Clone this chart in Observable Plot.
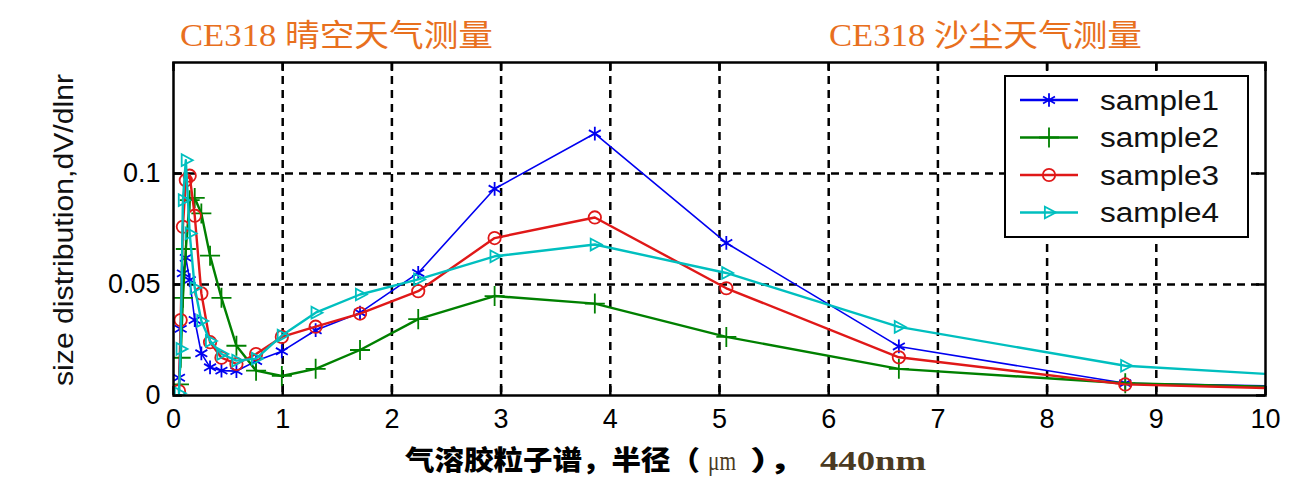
<!DOCTYPE html>
<html>
<head>
<meta charset="utf-8">
<script src="https://cdn.jsdelivr.net/npm/d3@7"></script>
<script src="https://cdn.jsdelivr.net/npm/@observablehq/plot@0.6"></script>
<style>
  html, body { margin: 0; padding: 0; background: #fff; overflow: hidden; }
  #wrap { position: relative; width: 1314px; height: 493px; }
  #wrap > svg { position: absolute; left: 0; top: 0; }
</style>
</head>
<body>
<div id="wrap"></div>
<script>
// ---- data ----
const radius  = [0.05, 0.0656, 0.0861, 0.1129, 0.1482, 0.1944, 0.2551, 0.3347, 0.4392, 0.5763, 0.7561, 0.9921, 1.3017, 1.708, 2.2411, 2.9405, 3.8583, 5.0625, 6.6425, 8.7157, 11.436, 15.0];
const sample1 = [0.008, 0.030, 0.055, 0.062, 0.052, 0.034, 0.019, 0.0127, 0.0112, 0.0110, 0.0155, 0.0199, 0.0294, 0.0373, 0.0552, 0.0931, 0.1180, 0.0687, 0.0221, 0.0055, 0.0030, 0.0010];
const sample2 = [0.005, 0.017, 0.044, 0.066, 0.088, 0.089, 0.082, 0.063, 0.044, 0.0224, 0.0112, 0.0088, 0.0120, 0.0205, 0.0344, 0.0448, 0.0414, 0.0264, 0.0120, 0.0055, 0.0022, 0.0008];
const sample3 = [0.002, 0.034, 0.076, 0.097, 0.099, 0.081, 0.046, 0.024, 0.017, 0.0142, 0.0187, 0.0264, 0.0310, 0.0369, 0.0470, 0.0709, 0.0802, 0.0483, 0.0172, 0.0050, 0.0015, 0.0005];
const sample4 = [0.001, 0.021, 0.088, 0.106, 0.073, 0.0485, 0.0336, 0.0246, 0.0187, 0.0157, 0.0166, 0.0270, 0.0373, 0.0455, 0.0523, 0.0627, 0.0680, 0.0552, 0.0309, 0.0134, 0.0056, 0.0020];
const seriesNames = ["sample1", "sample2", "sample3", "sample4"];
const xTicks = [0, 1, 2, 3, 4, 5, 6, 7, 8, 9, 10];
const yTicks = [0, 0.05, 0.1];
const titleLeft = "CE318 晴空天气测量";
const titleRight = "CE318 沙尘天气测量";
const yLabel = "size distribution,dV/dlnr";

// ---- styles ----
const triangleRight = {
  draw(context, size) {
    const r = Math.sqrt(size / Math.PI) * 1.15;
    context.moveTo(r, 0);
    context.lineTo(-r * 0.6, r * 0.85);
    context.lineTo(-r * 0.6, -r * 0.85);
    context.closePath();
  }
};
const styles = [
  {color: "#0000f0", width: 1.6, symbol: d3.symbolAsterisk, r: 6.5},
  {color: "#008000", width: 2.4, symbol: d3.symbolPlus, r: 6.5},
  {color: "#e01818", width: 2.4, symbol: d3.symbolCircle, r: 6.2},
  {color: "#00bfbf", width: 2.4, symbol: triangleRight, r: 6.0}
];

const values = [sample1, sample2, sample3, sample4];
const tables = values.map((vals, i) => radius.map((r, j) => ({r, v: vals[j], series: seriesNames[i]})));

const W = 1314, H = 493;
const mT = 62, mB = 98, mL = 173, mR = 49;
const frameH = H - mT - mB, frameW = W - mL - mR;
const tickLen = 9;

const marks = [
  Plot.gridX(xTicks.filter(d => d > 0 && d < 10), {stroke: "black", strokeOpacity: 1, strokeWidth: 2.5, strokeDasharray: "8,6"}),
  Plot.gridY(yTicks.filter(d => d > 0), {stroke: "black", strokeOpacity: 1, strokeWidth: 2.5, strokeDasharray: "8,6"}),
  Plot.tickX(xTicks, {x: d => d, insetTop: frameH - tickLen, stroke: "black", strokeWidth: 2.5}),
  Plot.tickX(xTicks, {x: d => d, insetBottom: frameH - tickLen, stroke: "black", strokeWidth: 2.5}),
  Plot.tickY(yTicks, {y: d => d, insetRight: frameW - tickLen, stroke: "black", strokeWidth: 2.5}),
  Plot.tickY(yTicks, {y: d => d, insetLeft: frameW - tickLen, stroke: "black", strokeWidth: 2.5}),
  Plot.axisX(xTicks, {tickSize: 0, tickPadding: 13, label: null, tickFormat: d => String(d)}),
  Plot.axisY(yTicks, {tickSize: 0, tickPadding: 13, label: null, tickFormat: d => String(d)})
];
tables.forEach((rows, i) => {
  const s = styles[i];
  marks.push(Plot.line(rows, {x: "r", y: "v", stroke: s.color, strokeWidth: s.width, clip: true}));
  marks.push(Plot.dot(rows, {x: "r", y: "v", symbol: s.symbol, r: s.r, stroke: s.color, fill: "none", strokeWidth: 1.8, clip: true}));
});
marks.push(Plot.frame({stroke: "black", strokeWidth: 2.5}));

const chart = Plot.plot({
  width: W, height: H,
  marginTop: mT, marginBottom: mB, marginLeft: mL, marginRight: mR,
  style: {fontFamily: "'Liberation Sans', Arial, sans-serif", fontSize: "27px", background: "white", color: "black"},
  x: {type: "linear", domain: [0, 10]},
  y: {type: "linear", domain: [0, 0.15]},
  marks
});
const wrap = document.getElementById("wrap");
wrap.appendChild(chart);

// ---- overlay: titles, axis labels, legend ----
const ov = d3.select(wrap).append("svg").attr("width", W).attr("height", H).style("pointer-events", "none");

const titleFont = "'Liberation Serif', 'Times New Roman', 'Noto Sans CJK SC', serif";
[[titleLeft, 180], [titleRight, 829]].forEach(([t, x]) => {
  ov.append("text").attr("x", x).attr("y", 46).attr("fill", "#e8701e")
    .attr("font-family", titleFont).attr("font-size", 31)
    .attr("textLength", 313).attr("lengthAdjust", "spacingAndGlyphs").text(t);
});

ov.append("text").attr("transform", "translate(73,230) rotate(-90)")
  .attr("text-anchor", "middle").attr("font-family", "'Liberation Sans', Arial, sans-serif")
  .attr("font-size", 27).attr("fill", "#111").attr("textLength", 312).attr("lengthAdjust", "spacingAndGlyphs")
  .text(yLabel);

const cjkBold = "'Noto Sans CJK SC', sans-serif";
const serif = "'Liberation Serif', 'Times New Roman', serif";
const xl = [
  {t: "气溶胶粒子谱，半径（", x: 405, len: 295, f: cjkBold, w: 900, c: "#000", fs: 27},
  {t: "μm", x: 708, len: 28, f: serif, w: 400, c: "#4a3a22", fs: 28},
  {t: "），", x: 750, len: 56, f: cjkBold, w: 900, c: "#000", fs: 27},
  {t: "440nm", x: 820, len: 106, f: serif, w: 700, c: "#4a3a22", fs: 27}
];
xl.forEach(p => {
  ov.append("text").attr("x", p.x).attr("y", 470).attr("font-family", p.f).attr("font-weight", p.w)
    .attr("font-size", p.fs).attr("fill", p.c).attr("textLength", p.len).attr("lengthAdjust", "spacingAndGlyphs").text(p.t);
});

// legend
const lg = ov.append("g");
lg.append("rect").attr("x", 1005).attr("y", 76).attr("width", 243).attr("height", 161)
  .attr("fill", "white").attr("stroke", "black").attr("stroke-width", 2);
const rowY = [100, 137.5, 175, 212.5];
seriesNames.forEach((name, i) => {
  const s = styles[i], y = rowY[i];
  lg.append("line").attr("x1", 1020).attr("x2", 1078).attr("y1", y).attr("y2", y)
    .attr("stroke", s.color).attr("stroke-width", 2.4);
  lg.append("path").attr("transform", `translate(1049,${y})`)
    .attr("d", d3.symbol(s.symbol, s.r * s.r * Math.PI)())
    .attr("fill", "none").attr("stroke", s.color).attr("stroke-width", 1.8);
  lg.append("text").attr("x", 1100).attr("y", y + 9.5).attr("font-family", "'Liberation Sans', Arial, sans-serif")
    .attr("font-size", 27).attr("fill", "#111").attr("textLength", 119).attr("lengthAdjust", "spacingAndGlyphs").text(name);
});
</script>
</body>
</html>
